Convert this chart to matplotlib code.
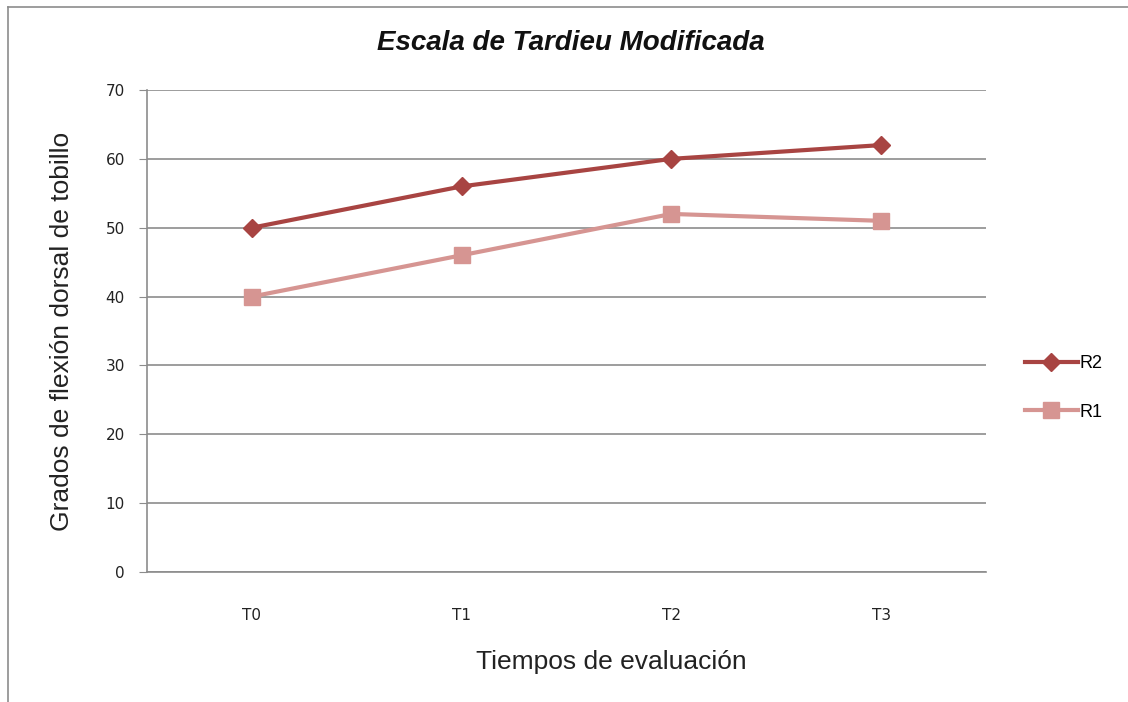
import matplotlib
matplotlib.use("Agg")
import matplotlib.pyplot as plt
from matplotlib.lines import Line2D

categories = ["T0", "T1", "T2", "T3"]
r2 = [50, 56, 60, 62]
r1 = [40, 46, 52, 51]
yticks = [0, 10, 20, 30, 40, 50, 60, 70]

plt.rcParams['font.family'] = ['Liberation Sans', 'DejaVu Sans']

W, H = 1128, 702
fig = plt.figure(figsize=(W / 100, H / 100), dpi=100)
ax = fig.add_axes([147 / W, 1 - 572 / H, (986 - 147) / W, (572 - 90) / H])

x = list(range(len(categories)))
c2 = '#A84442'
c1 = '#D69592'
ax.plot(x, r2, color=c2, lw=3, marker='D', ms=9, label='R2', zorder=4)
ax.plot(x, r1, color=c1, lw=3, marker='s', ms=12, label='R1', zorder=3)

ax.set_xlim(-0.5, 3.5)
ax.set_ylim(0, 70)
ax.set_yticks(yticks)
ax.set_xticks(x)
ax.set_xticklabels(categories)
ax.grid(axis='y', color='#8c8c8c', lw=1.2)
ax.set_axisbelow(True)
for s in ['top', 'right']:
    ax.spines[s].set_visible(False)
for s in ['left', 'bottom']:
    ax.spines[s].set_color('#8c8c8c')
    ax.spines[s].set_linewidth(1.2)
ax.tick_params(axis='y', length=6, color='#8c8c8c', pad=10, labelcolor='#222222')
ax.tick_params(axis='x', length=0, pad=26, labelcolor='#222222')
for lab in ax.get_xticklabels() + ax.get_yticklabels():
    lab.set_fontfamily('DejaVu Sans')
    lab.set_fontsize(11)

ax.set_xlabel('Tiempos de evaluación', fontsize=19, color='#222222')
ax.xaxis.set_label_coords((611 - 147) / 839, (572 - 662) / 482)
ax.xaxis.label.set_va('center')
ax.set_ylabel('Grados de flexión dorsal de tobillo', fontsize=19, color='#222222')
ax.yaxis.set_label_coords((62 - 147) / 839, (572 - 331) / 482)
ax.yaxis.label.set_va('center')
ax.yaxis.label.set_ha('center')

fig.text(571 / W, 1 - 43 / H, 'Escala de Tardieu Modificada', fontsize=20, style='italic',
         fontweight='bold', ha='center', va='center', color='#111111')

handles = [
    Line2D([], [], color=c2, lw=3, marker='D', ms=9),
    Line2D([], [], color=c1, lw=3, marker='s', ms=12),
]
fig.legend(handles, ['R2', 'R1'], loc='center left', bbox_to_anchor=(1009 / W, 1 - 388 / H),
           frameon=False, fontsize=13, handlelength=2.9, handletextpad=0.1, labelspacing=1.75)

# chart area border
fig.add_artist(Line2D([8 / W, 8 / W], [0, 1 - 7 / H], color='#8c8c8c', lw=1.2))
fig.add_artist(Line2D([8 / W, 1], [1 - 7 / H, 1 - 7 / H], color='#8c8c8c', lw=1.2))

fig.savefig('out.png', dpi=100, facecolor='white')
